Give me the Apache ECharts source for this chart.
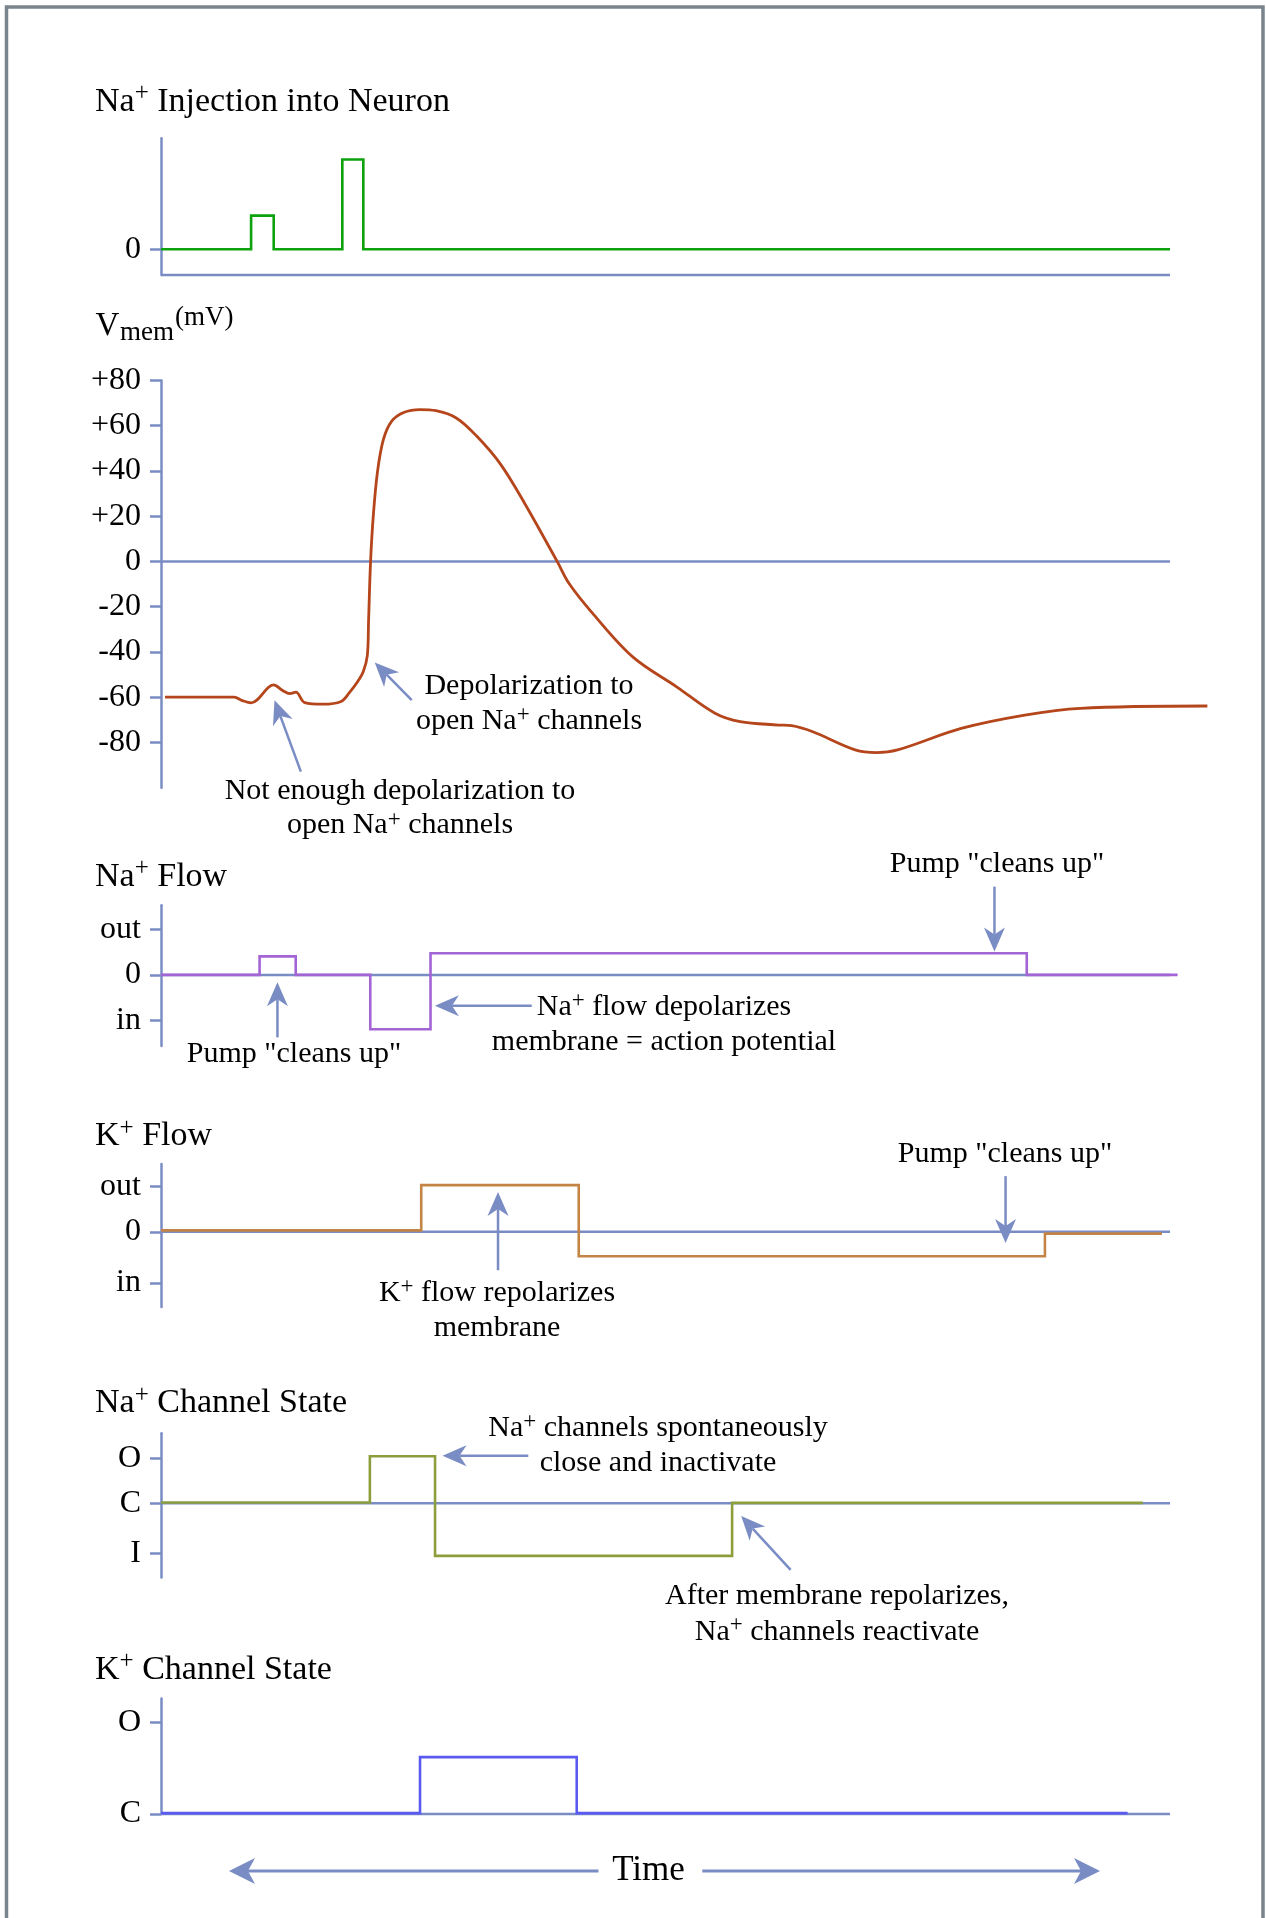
<!DOCTYPE html>
<html><head><meta charset="utf-8">
<script src="https://cdn.jsdelivr.net/npm/echarts@6/dist/echarts.min.js"></script>
<style>html,body{margin:0;padding:0;background:#fff}#main{width:1266px;height:1918px}</style>
</head><body><div id="main"></div>
<script>
// ---------------- data ----------------
const injTime  = [0, 8.93, 8.93, 11.17, 11.17, 17.97, 17.97, 20.05, 20.05, 100];
const injLevel = [0, 0, 1, 1, 0, 0, 2.67, 2.67, 0, 0];

const vmemTime = [0.4, 7.25, 8.05, 8.93, 11.17, 12.05, 12.77, 13.37, 14.25, 16.05, 17.85, 18.65, 19.46, 20.05, 20.45, 20.57, 20.77, 21.05, 21.46, 22.05, 22.85, 24.05, 25.66, 27.25, 29.26, 31.26, 33.66, 36.06, 39.26, 40.46, 42.86, 46.78, 51.1, 54.9, 57.4, 61.2, 62.5, 64.6, 68.8, 70.9, 73.0, 79.3, 85.6, 91.1, 103.7];
const vmemMV   = [-60, -60, -61.5, -62.5, -54.6, -57.0, -58.4, -57.8, -62.4, -63.1, -61.9, -58.1, -53.3, -48.6, -41.5, -26.5, 0, 20.8, 39.8, 54.0, 61.9, 65.8, 67.1, 66.6, 63.4, 55.5, 42.9, 25.5, 0, -9.9, -23.4, -42.3, -55.4, -67.1, -70.8, -72.3, -72.6, -75.3, -83.3, -84.5, -83.3, -73.8, -67.9, -64.9, -63.9];

const naFlowTime  = [0, 9.77, 9.77, 13.35, 13.35, 20.74, 20.74, 26.71, 26.71, 85.8, 85.8, 100.75];
const naFlowLevel = [0, 0, 0.41, 0.41, 0, 0, -1.2, -1.2, 0.48, 0.48, 0, 0];

const kFlowTime  = [0, 25.79, 25.79, 41.4, 41.4, 87.6, 87.6, 99.2];
const kFlowLevel = [0.03, 0.03, 1.03, 1.03, -0.54, -0.54, -0.04, -0.04];

const naChanTime  = [0, 20.7, 20.7, 27.16, 27.16, 56.6, 56.6, 97.3];
const naChanLevel = [0.02, 0.02, 1.04, 1.04, -1.16, -1.16, 0.01, 0.01];

const kChanTime  = [0, 25.67, 25.67, 41.2, 41.2, 95.8];
const kChanLevel = [0.01, 0.01, 0.62, 0.62, 0.01, 0.01];

// tick values / labels
const injTicks = [0];             const injLabels = ['0'];
const vmemTicks = [80, 60, 40, 20, 0, -20, -40, -60, -80];
const vmemLabels = ['+80', '+60', '+40', '+20', '0', '-20', '-40', '-60', '-80'];
const naFlowTicks = [1, 0, -1];   const naFlowLabels = ['out', '0', 'in'];
const kFlowTicks = [1, 0, -1.13]; const kFlowLabels = ['out', '0', 'in'];
const naChanTicks = [1, 0, -1.1]; const naChanLabels = ['O', 'C', 'I'];
const kChanTicks = [1, 0];        const kChanLabels = ['O', 'C'];

// ---------------- style / layout ----------------
const FONT = '"Liberation Serif", "Times New Roman", serif';
const AXIS = '#7a8cc4';
const GRID_LEFT = 161, GRID_WIDTH = 1049.4, X_MAX = 104, LINE_END = 100;

const panels = [
  { top: 138.3, height: 136.7, min: -0.765, max: 3.30, ticks: injTicks, labels: injLabels, base: -0.765, x: injTime, y: injLevel, color: '#0da10d' },
  { top: 380.4, height: 407.3, min: -100, max: 80, ticks: vmemTicks, labels: vmemLabels, base: 0, x: vmemTime, y: vmemMV, color: '#b5451b', smooth: true },
  { top: 905.2, height: 140.8, min: -1.57, max: 1.54, ticks: naFlowTicks, labels: naFlowLabels, base: 0, x: naFlowTime, y: naFlowLevel, color: '#a364d6' },
  { top: 1163.9, height: 143.0, min: -1.66, max: 1.5, ticks: kFlowTicks, labels: kFlowLabels, base: 0, x: kFlowTime, y: kFlowLevel, color: '#c48446' },
  { top: 1433.2, height: 144.4, min: -1.64, max: 1.55, ticks: naChanTicks, labels: naChanLabels, base: 0, x: naChanTime, y: naChanLevel, color: '#8c9f3c' },
  { top: 1698.4, height: 115.6, min: 0, max: 1.26, ticks: kChanTicks, labels: kChanLabels, base: 0, x: kChanTime, y: kChanLevel, color: '#5a5af0' }
];

function pairs(xs, ys) { return xs.map((x, i) => [x, ys[i]]); }

const grids = [], xAxes = [], yAxes = [], series = [];
panels.forEach((p, i) => {
  grids.push({ left: GRID_LEFT, width: GRID_WIDTH, top: p.top, height: p.height, containLabel: false, outerBoundsMode: 'none' });
  xAxes.push({ gridIndex: i, type: 'value', min: 0, max: X_MAX, show: false });
  yAxes.push({
    gridIndex: i, type: 'value', min: p.min, max: p.max,
    axisLine: { show: true, onZero: false, lineStyle: { color: AXIS, width: 2.5 } },
    axisTick: { show: true, length: 11, customValues: p.ticks, lineStyle: { color: AXIS, width: 2.5 } },
    axisLabel: {
      show: true, customValues: p.ticks, margin: 20,
      fontFamily: FONT, fontSize: 32, color: '#000',
      formatter: (v) => { const k = p.ticks.findIndex(t => Math.abs(t - v) < 1e-6); return k >= 0 ? p.labels[k] : ''; }
    },
    splitLine: { show: false }
  });
  series.push({
    type: 'line', xAxisIndex: i, yAxisIndex: i, silent: true, symbol: 'none', clip: false,
    data: [[0, p.base], [LINE_END, p.base]],
    lineStyle: { color: AXIS, width: 2.5, cap: 'butt' }, z: 2
  });
  series.push({
    type: 'line', xAxisIndex: i, yAxisIndex: i, silent: true, symbol: 'none', clip: false,
    data: pairs(p.x, p.y),
    smooth: p.smooth ? 0.35 : false,
    lineStyle: { color: p.color, width: p.smooth ? 2.8 : 2.6, cap: 'butt', join: p.smooth ? 'round' : 'miter' }, z: 3
  });
});

const chart = echarts.init(document.getElementById('main'), null, { renderer: 'canvas' });
chart.setOption({ animation: false, backgroundColor: '#fff', grid: grids, xAxis: xAxes, yAxis: yAxes, series: series });

// ---------------- annotations ----------------
const annotationArrows = [
  { grid: 1, from: [13.86, -92.9], to: [11.25, -61.3] },
  { grid: 1, from: [24.85, -61.3], to: [21.18, -44.7] },
  { grid: 2, from: [11.54, -1.38], to: [11.54, -0.16] },
  { grid: 2, from: [36.74, -0.68], to: [27.15, -0.68] },
  { grid: 2, from: [82.6, 1.95], to: [82.6, 0.52] },
  { grid: 3, from: [33.4, -0.85], to: [33.4, 0.88] },
  { grid: 3, from: [83.7, 1.23], to: [83.7, -0.25] },
  { grid: 4, from: [36.4, 1.05], to: [27.9, 1.05] },
  { grid: 4, from: [62.4, -1.47], to: [57.5, -0.28] }
];

function arrow(p0, p1, L, W, notch, color, lw) {
  const dx = p1[0] - p0[0], dy = p1[1] - p0[1];
  const len = Math.hypot(dx, dy), ux = dx / len, uy = dy / len, nx = -uy, ny = ux;
  const bx = p1[0] - ux * L, by = p1[1] - uy * L;
  const np = [p1[0] - ux * notch, p1[1] - uy * notch];
  return [
    { type: 'line', silent: true, z: 10, shape: { x1: p0[0], y1: p0[1], x2: np[0], y2: np[1] }, style: { stroke: color, lineWidth: lw } },
    { type: 'polygon', silent: true, z: 10, shape: { points: [p1, [bx + nx * W, by + ny * W], np, [bx - nx * W, by - ny * W]] }, style: { fill: color } }
  ];
}

const supRich = (fs) => ({ s: { fontSize: fs, fontFamily: FONT, fill: '#000', verticalAlign: 'top', lineHeight: Math.round(fs * 1.05) } });

function label(text, x, y, opts) {
  opts = opts || {};
  const fs = opts.fontSize || 30;
  return {
    type: 'text', x: x, y: y, silent: true, z: 11,
    style: {
      text: text, fill: '#000', fontFamily: FONT, fontSize: fs,
      lineHeight: opts.lineHeight || 35, align: opts.align || 'center', verticalAlign: 'middle',
      rich: supRich(opts.supSize || 23)
    }
  };
}

const graphics = [];
// frame
graphics.push({ type: 'rect', silent: true, z: 0, shape: { x: 6.5, y: 7, width: 1256.5, height: 1960 }, style: { fill: 'none', stroke: '#7a848d', lineWidth: 3.5 } });

// panel titles
const titleOpts = { fontSize: 34, lineHeight: 42, supSize: 25, align: 'left' };
graphics.push(label('Na{s|+} Injection into Neuron', 95, 102, titleOpts));
graphics.push(label('Na{s|+} Flow', 95, 877, titleOpts));
graphics.push(label('K{s|+} Flow', 95, 1136.5, titleOpts));
graphics.push(label('Na{s|+} Channel State', 95, 1403.5, titleOpts));
graphics.push(label('K{s|+} Channel State', 95, 1670, titleOpts));
// V_mem (mV)
graphics.push({ type: 'text', x: 95.4, y: 326.4, silent: true, style: { text: 'V', fill: '#000', fontFamily: FONT, fontSize: 33, align: 'left', verticalAlign: 'middle' } });
graphics.push({ type: 'text', x: 120, y: 333.2, silent: true, style: { text: 'mem', fill: '#000', fontFamily: FONT, fontSize: 27, align: 'left', verticalAlign: 'middle' } });
graphics.push({ type: 'text', x: 175, y: 317.5, silent: true, style: { text: '(mV)', fill: '#000', fontFamily: FONT, fontSize: 27, align: 'left', verticalAlign: 'middle' } });

// annotation texts (two-line blocks centred)
graphics.push(label('Depolarization to\nopen Na{s|+} channels', 529, 703.5, { lineHeight: 35.7 }));
graphics.push(label('Not enough depolarization to\nopen Na{s|+} channels', 400, 808, { lineHeight: 34 }));
graphics.push(label('Pump "cleans up"', 294, 1054.4));
graphics.push(label('Na{s|+} flow depolarizes\nmembrane = action potential', 664, 1024.5, { lineHeight: 35 }));
graphics.push(label('Pump "cleans up"', 997, 864));
graphics.push(label('K{s|+} flow repolarizes\nmembrane', 497, 1310.5, { lineHeight: 35 }));
graphics.push(label('Pump "cleans up"', 1005, 1154));
graphics.push(label('Na{s|+} channels spontaneously\nclose and inactivate', 658, 1445.8, { lineHeight: 35 }));
graphics.push(label('After membrane repolarizes,\nNa{s|+} channels reactivate', 837, 1613.7, { lineHeight: 36 }));

// annotation arrows positioned through the grids' scales
annotationArrows.forEach(a => {
  const p0 = chart.convertToPixel({ gridIndex: a.grid }, a.from);
  const p1 = chart.convertToPixel({ gridIndex: a.grid }, a.to);
  arrow(p0, p1, 24, 10.5, 17, AXIS, 2.5).forEach(g => graphics.push(g));
});

// Time arrow
const timeY = 1871;
arrow([598.5, timeY], [229, timeY], 26, 13, 19, AXIS, 3).forEach(g => graphics.push(g));
arrow([702.3, timeY], [1100, timeY], 26, 13, 19, AXIS, 3).forEach(g => graphics.push(g));
graphics.push({ type: 'text', x: 648.5, y: timeY, silent: true, style: { text: 'Time', fill: '#000', fontFamily: FONT, fontSize: 35, align: 'center', verticalAlign: 'middle' } });

chart.setOption({ graphic: { elements: graphics } });
</script>
</body></html>
